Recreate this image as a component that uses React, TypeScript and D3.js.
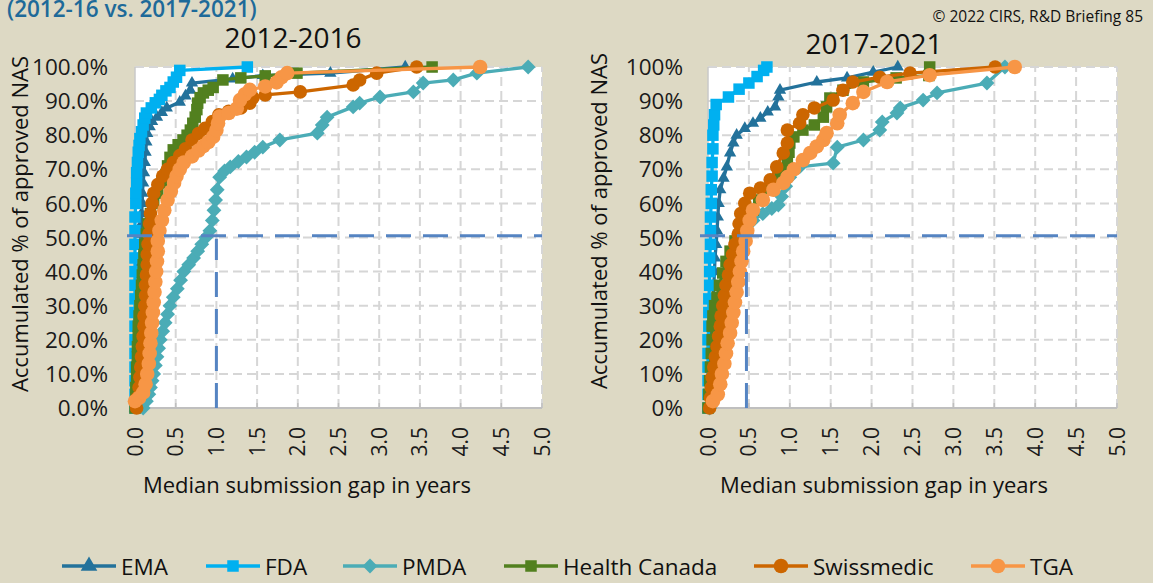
import React from 'react';
import * as d3 from 'd3';

const W = 1153;
const H = 583;
const BG = '#DDD9C4';
const FONT = "'Open Sans', 'Noto Sans', sans-serif";

const seriesNames = ['EMA', 'FDA', 'PMDA', 'Health Canada', 'Swissmedic', 'TGA'];
const seriesColors = ['#23729B', '#00B0F0', '#4BACB6', '#52801F', '#CC6600', '#F79646'];
const seriesMarkers = ['triangle', 'square', 'diamond', 'square', 'circle', 'circle'];

const xTicks = [0, 0.5, 1, 1.5, 2, 2.5, 3, 3.5, 4, 4.5, 5];
const yTicks = [0, 10, 20, 30, 40, 50, 60, 70, 80, 90, 100];
const medianPct = 50.5;

// ---- 2012-2016 : [gap in years, accumulated %] ----
const ema1216 = [[0,0],[0.01,3],[0.02,6],[0.02,9],[0.03,12],[0.03,15],[0.04,18],[0.04,21],[0.04,24],[0.05,27],[0.05,30],[0.05,33],[0.06,36],[0.06,39],[0.06,42],[0.07,45],[0.07,48],[0.07,51],[0.08,54],[0.08,57],[0.09,60],[0.09,63],[0.1,66],[0.11,69],[0.12,72],[0.13,75],[0.14,78],[0.15,80.5],[0.18,82.5],[0.21,84],[0.27,85.3],[0.33,86.7],[0.39,88],[0.55,89.7],[0.62,91.5],[0.68,93.2],[0.7,95.3],[1.2,96.5],[1.57,97.5],[2.4,98.2],[3.32,100]];
const fda1216 = [[0,0],[0,4],[0,8],[0,12],[0,16],[0,20],[0,24],[0,28],[0,32],[0,36],[0,40],[0,44],[0,48],[0,52],[0,56],[0.01,60],[0.01,63],[0.02,66],[0.02,69],[0.03,72],[0.04,75],[0.05,77],[0.06,79],[0.08,81],[0.1,83],[0.12,85],[0.14,86.5],[0.2,88],[0.25,89.5],[0.3,90.5],[0.33,91.7],[0.38,93],[0.43,94],[0.47,95.6],[0.51,97],[0.55,99],[1.38,100]];
const pmda1216 = [[0.1,0],[0.14,2],[0.17,4],[0.19,6],[0.21,8],[0.23,10],[0.25,12.5],[0.27,15],[0.29,17.5],[0.31,20],[0.34,22.5],[0.37,25],[0.4,27.5],[0.43,30],[0.47,32.5],[0.52,35],[0.56,37.5],[0.6,40],[0.66,42],[0.72,44],[0.77,46],[0.82,48],[0.87,50],[0.92,52],[0.95,55],[0.97,58],[0.99,61],[1.01,64],[1.04,67.7],[1.1,69.5],[1.17,70.7],[1.27,72.3],[1.37,73.6],[1.47,75],[1.57,76.5],[1.78,78.6],[2.24,80.6],[2.3,83],[2.36,85.3],[2.68,88.3],[2.76,89.4],[3.01,91.2],[3.42,92.7],[3.54,95.3],[3.91,96.2],[4.2,98.2],[4.83,100]];
const hc1216 = [[0,0],[0.01,3],[0.01,6],[0.02,9],[0.02,12],[0.03,15],[0.03,18],[0.04,21],[0.04,24],[0.05,27],[0.06,30],[0.07,33],[0.08,36],[0.09,39],[0.1,42],[0.11,45],[0.12,48],[0.14,51],[0.16,54],[0.19,57],[0.23,60],[0.28,63],[0.33,66],[0.38,68.5],[0.4,71],[0.43,73.5],[0.47,75.7],[0.53,77.2],[0.59,78.6],[0.64,80],[0.68,81.5],[0.71,83.5],[0.74,85.3],[0.76,87.5],[0.77,89.4],[0.8,91],[0.84,92.4],[0.9,93.2],[0.96,94],[1.08,96.2],[1.3,96.8],[1.6,97.4],[1.99,98.2],[3.65,100]];
const swiss1216 = [[0.02,0],[0.03,3],[0.05,6],[0.06,9],[0.07,12],[0.08,15],[0.09,18],[0.1,21],[0.11,24],[0.11,27],[0.12,30],[0.13,33],[0.13,36],[0.14,39],[0.15,42],[0.15,45],[0.16,48],[0.17,51],[0.18,54],[0.19,57],[0.21,60],[0.23,63],[0.28,65.5],[0.34,68],[0.4,70],[0.47,72],[0.55,74],[0.62,76],[0.7,78.6],[0.78,80.5],[0.86,82],[0.95,84],[1.03,86],[1.15,87],[1.3,88],[1.41,89.4],[1.45,91],[1.6,91.8],[2.03,92.7],[2.68,94.7],[2.76,96.2],[2.97,98.2],[3.46,100]];
const tga1216 = [[0,2],[0.05,3],[0.1,4.5],[0.13,7],[0.15,10],[0.17,13],[0.18,16],[0.19,19],[0.2,22],[0.21,25],[0.22,28],[0.23,31],[0.24,34],[0.25,37],[0.26,40],[0.27,43],[0.28,46],[0.28,49],[0.3,52],[0.33,55],[0.36,58],[0.4,61],[0.44,63.5],[0.48,66],[0.51,68],[0.55,70],[0.6,72],[0.7,73.8],[0.78,75.5],[0.84,76.8],[0.9,78],[0.96,79.5],[1.0,81.5],[1.02,83.5],[1.04,85.5],[1.15,86.5],[1.25,87.8],[1.29,90.3],[1.35,92],[1.41,93.3],[1.6,94.3],[1.74,95.5],[1.8,97],[1.87,98.2],[4.24,100]];

// ---- 2017-2021 ----
const ema1721 = [[0,0],[0.01,4],[0.02,8],[0.02,12],[0.03,16],[0.03,20],[0.04,24],[0.05,28],[0.06,32],[0.07,36],[0.08,40],[0.085,44],[0.1,48],[0.11,52],[0.12,56],[0.13,60],[0.15,64],[0.19,67.4],[0.23,70.7],[0.27,74.8],[0.31,77.7],[0.35,80],[0.45,82],[0.55,83.5],[0.64,85],[0.73,86.8],[0.82,88.3],[0.86,91.2],[0.88,93.2],[1.33,95.6],[1.7,96.8],[2.02,98.5],[2.32,100]];
const fda1721 = [[0,0],[0,4],[0,8],[0,12],[0,16],[0,20],[0.01,24],[0.01,28],[0.01,32],[0.02,36],[0.02,40],[0.02,44],[0.03,48],[0.03,52],[0.03,56],[0.04,60],[0.04,64],[0.05,68],[0.05,72],[0.06,76],[0.06,80],[0.07,83],[0.08,86],[0.1,89],[0.25,91.2],[0.38,93.5],[0.5,95.3],[0.6,97.2],[0.68,99],[0.72,100]];
const pmda1721 = [[0.02,0],[0.05,4],[0.08,8],[0.1,12],[0.12,16],[0.14,20],[0.16,24],[0.18,28],[0.2,32],[0.23,36],[0.26,40],[0.3,44],[0.35,48],[0.42,52],[0.55,55],[0.67,57],[0.78,58.5],[0.86,59.5],[0.9,62],[0.95,65],[1.0,67.7],[1.12,70.7],[1.53,71.8],[1.58,76.5],[1.9,78.6],[2.1,81.5],[2.13,83.9],[2.31,86.5],[2.35,88],[2.63,90.3],[2.8,92.4],[3.41,95.3],[3.63,100]];
const hc1721 = [[0,0],[0.01,4],[0.02,8],[0.03,12],[0.04,16],[0.05,20],[0.05,24],[0.06,27],[0.08,30],[0.11,32.5],[0.14,36],[0.18,39.6],[0.22,43],[0.27,46],[0.33,49],[0.4,52],[0.48,55],[0.55,58],[0.62,61],[0.76,64],[0.82,66],[0.88,67.7],[0.92,70],[0.97,72.7],[0.99,75],[1.0,77.7],[1.05,79.5],[1.16,81.5],[1.3,83],[1.41,85.3],[1.45,88.3],[1.49,90.9],[1.65,93.2],[1.9,95.6],[2.3,96.8],[2.7,97.5],[2.71,100]];
const swiss1721 = [[0.02,0],[0.03,3],[0.04,6],[0.05,9],[0.07,12],[0.09,15],[0.11,18],[0.13,21],[0.15,24],[0.16,27],[0.18,30],[0.2,33],[0.22,36],[0.25,39],[0.27,42],[0.3,45],[0.33,48],[0.37,51],[0.38,54],[0.4,57],[0.45,60],[0.51,63],[0.64,64.5],[0.76,66.9],[0.84,70.7],[0.92,74.8],[0.97,77.7],[0.97,81.5],[1.12,83.5],[1.16,86],[1.3,88],[1.53,90.3],[1.65,93.2],[1.77,95.6],[2.1,97],[2.47,98.2],[3.51,100]];
const tga1721 = [[0.06,2],[0.12,4],[0.15,7],[0.17,10],[0.2,13],[0.22,16],[0.24,19],[0.27,22],[0.29,25],[0.31,28],[0.33,31],[0.35,34],[0.37,37],[0.39,40],[0.41,43],[0.43,46],[0.46,49],[0.48,52],[0.51,55],[0.55,58],[0.67,61],[0.8,64],[0.92,66],[0.97,67.7],[1.05,70],[1.16,72.7],[1.25,74.8],[1.33,76.7],[1.41,78.6],[1.45,80.6],[1.58,83.5],[1.61,86],[1.77,89.4],[1.9,92.7],[2.19,95.6],[2.71,97.6],[3.75,100]];

const data1216 = [ema1216, fda1216, pmda1216, hc1216, swiss1216, tga1216];
const data1721 = [ema1721, fda1721, pmda1721, hc1721, swiss1721, tga1721];

const panels = [
  { title: '2012-2016', data: data1216, median: 1.0, x0: 135, x1: 542, fmt: (v: number) => v.toFixed(1) + '%',
    tickRight: 108, titleX: 293, titleY: 48, xTitleX: 307, yTitleX: 28, yTitleY: 224 },
  { title: '2017-2021', data: data1721, median: 0.47, x0: 708, x1: 1117, fmt: (v: number) => v + '%',
    tickRight: 683, titleX: 874, titleY: 54, xTitleX: 884, yTitleX: 607, yTitleY: 221 },
];

const legendX = [62, 206, 343, 504, 754, 971];

const Y0 = 408;
const Y1 = 67;

function Marker({ type, x, y, color, scale = 1 }: any) {
  if (type === 'triangle') {
    const p = d3.symbol(d3.symbolTriangle, 66 * scale * scale)();
    return <path d={p as string} transform={`translate(${x},${y})`} fill={color} />;
  }
  if (type === 'square') {
    const s = 11.5 * scale;
    return <rect x={x - s / 2} y={y - s / 2} width={s} height={s} fill={color} />;
  }
  if (type === 'diamond') {
    const s = 10.5 * scale;
    return <rect x={-s / 2} y={-s / 2} width={s} height={s} fill={color} transform={`translate(${x},${y}) rotate(45)`} />;
  }
  return <circle cx={x} cy={y} r={7.3 * scale} fill={color} />;
}

function Panel({ p }: any) {
  const x = d3.scaleLinear().domain([0, 5]).range([p.x0, p.x1]);
  const y = d3.scaleLinear().domain([0, 100]).range([Y0, Y1]);
  const line = d3.line<number[]>().x(d => x(d[0])).y(d => y(d[1]));
  const grid = '#D6D6D6';
  const med = '#5584C2';
  return (
    <g>
      <rect x={p.x0} y={Y1} width={p.x1 - p.x0} height={Y0 - Y1} fill="#fff" />
      {yTicks.filter(t => t > 0).map(t => (
        <line key={'gy' + t} x1={p.x0} x2={p.x1} y1={y(t)} y2={y(t)} stroke={grid} strokeWidth={2} strokeDasharray="9 5" />
      ))}
      {xTicks.filter(t => t > 0).map(t => (
        <line key={'gx' + t} x1={x(t)} x2={x(t)} y1={Y0} y2={Y1} stroke={grid} strokeWidth={2} strokeDasharray="9 5" />
      ))}
      <line x1={p.x0} x2={p.x0} y1={Y0} y2={Y1} stroke="#C8C8C8" strokeWidth={1.5} />
      <line x1={p.x0} x2={p.x1} y1={Y0} y2={Y0} stroke="#BFBFBF" strokeWidth={2} />
      {xTicks.map(t => (
        <line key={'tk' + t} x1={x(t)} x2={x(t)} y1={Y0} y2={Y0 - 5} stroke="#BFBFBF" strokeWidth={1.5} />
      ))}
      {yTicks.map(t => (
        <text key={'yl' + t} x={p.tickRight} y={y(t)} dy="0.36em" textAnchor="end" fontSize={22.5} fill="#1a1a1a" fontFamily={FONT}>{p.fmt(t)}</text>
      ))}
      {xTicks.map(t => (
        <text key={'xl' + t} transform={`translate(${x(t) + 7.5},427) rotate(-90)`} textAnchor="end" fontSize={21} fill="#1a1a1a" fontFamily={FONT}>{t.toFixed(1)}</text>
      ))}
      {p.data.map((s: number[][], i: number) => (
        <g key={'s' + i}>
          <path d={line(s) as string} fill="none" stroke={seriesColors[i]} strokeWidth={3.3} strokeLinejoin="round" />
          {s.map((d, j) => <Marker key={j} type={seriesMarkers[i]} x={x(d[0])} y={y(d[1])} color={seriesColors[i]} scale={i === 4 ? 0.93 : 1} />)}
        </g>
      ))}
      <line x1={p.x0 - 8} x2={p.x1} y1={y(medianPct)} y2={y(medianPct)} stroke={med} strokeWidth={3} strokeDasharray="25 12" />
      <line x1={x(p.median)} x2={x(p.median)} y1={Y0} y2={y(medianPct) + 3} stroke={med} strokeWidth={3} strokeDasharray="25 12" />
      <text x={p.titleX} y={p.titleY} textAnchor="middle" fontSize={28} fill="#111" fontFamily={FONT}>{p.title}</text>
      <text x={p.xTitleX} y={493} textAnchor="middle" fontSize={22} fill="#111" fontFamily={FONT}>Median submission gap in years</text>
      <text transform={`translate(${p.yTitleX},${p.yTitleY}) rotate(-90)`} textAnchor="middle" fontSize={22} fill="#111" fontFamily={FONT}>Accumulated % of approved NAS</text>
    </g>
  );
}

export default function App() {
  return (
    <svg width={W} height={H} style={{ position: 'absolute', left: 0, top: 0 }} xmlns="http://www.w3.org/2000/svg">
      <rect width={W} height={H} fill={BG} />
      <text x={7} y={17} fontSize={22.5} fontWeight={600} fill="#1E6A99" fontFamily={FONT}>(2012-16 vs. 2017-2021)</text>
      <text x={1143} y={22} textAnchor="end" fontSize={15.5} fill="#111" fontFamily={FONT}>© 2022 CIRS, R&amp;D Briefing 85</text>
      {panels.map((p, i) => <Panel key={i} p={p} />)}
      {seriesNames.map((n, i) => (
        <g key={n}>
          <line x1={legendX[i]} x2={legendX[i] + 54} y1={566} y2={566} stroke={seriesColors[i]} strokeWidth={3.7} />
          <Marker type={seriesMarkers[i]} x={legendX[i] + 27} y={566} color={seriesColors[i]} scale={i === 0 ? 1.35 : 1.0} />
          <text x={legendX[i] + 59} y={575} fontSize={22.5} fill="#111" fontFamily={FONT}>{n}</text>
        </g>
      ))}
    </svg>
  );
}
